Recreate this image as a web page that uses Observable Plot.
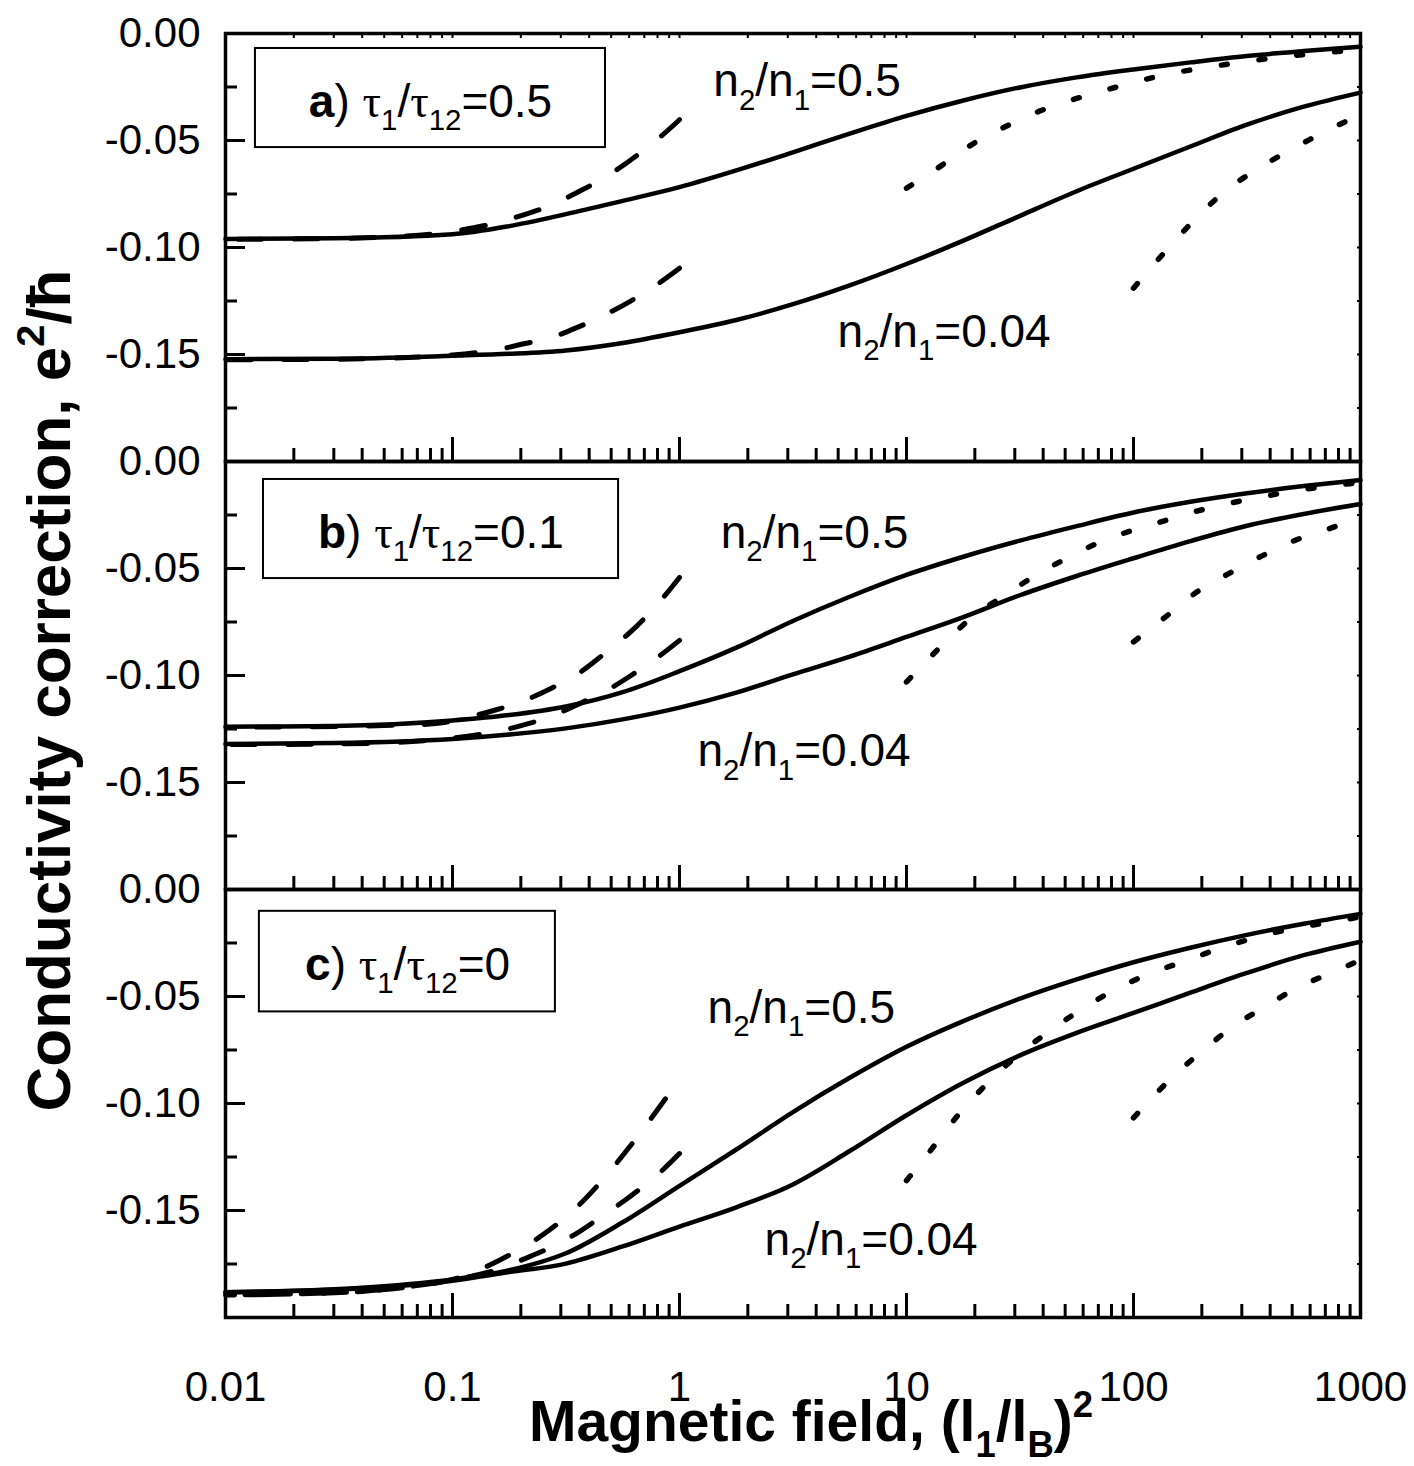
<!DOCTYPE html>
<html><head><meta charset="utf-8">
<script src="https://cdn.jsdelivr.net/npm/d3@7"></script>
<script src="https://cdn.jsdelivr.net/npm/@observablehq/plot@0.6"></script>
<style>body{margin:0;background:#fff;}</style>
</head><body><div id="chart"></div>
<script>
// ---------- axes / ticks ----------
const panels = ["a", "b", "c"];
const xTickValues = [0.01, 0.1, 1, 10, 100, 1000];
const xTickLabels = ["0.01", "0.1", "1", "10", "100", "1000"];
const yTickValues = [0, -0.05, -0.10, -0.15];
const yTickLabels = ["0.00", "-0.05", "-0.10", "-0.15"];
const yMinorTicks = [-0.025, -0.075, -0.125, -0.175];
const xMinorTicks = [];
for (const d of [0.01, 0.1, 1, 10, 100]) for (let k = 2; k <= 9; k++) xMinorTicks.push(+(d * k).toPrecision(3));

// ---------- series (x = (l1/lB)^2, y = conductivity correction) ----------
// panel a) tau1/tau12 = 0.5
const aSolid05 = [[0.01,-0.0960],[0.03,-0.0957],[0.1,-0.0938],[0.178,-0.0900],[0.316,-0.0844],[0.562,-0.0782],[1,-0.0718],[1.78,-0.0640],[3.16,-0.0555],[5.62,-0.0468],[10,-0.0385],[17.8,-0.0313],[31.6,-0.0252],[56.2,-0.0205],[100,-0.0168],[178,-0.0135],[316,-0.0105],[562,-0.0082],[1000,-0.0062]];
const aSolid004 = [[0.01,-0.1522],[0.03,-0.1520],[0.1,-0.1506],[0.178,-0.1497],[0.316,-0.1481],[0.562,-0.1446],[1,-0.1396],[1.78,-0.1339],[3.16,-0.1265],[5.62,-0.1177],[10,-0.1077],[17.8,-0.0968],[31.6,-0.0852],[56.2,-0.0737],[100,-0.0632],[178,-0.0528],[316,-0.0426],[562,-0.0342],[1000,-0.0276]];
const aDash05 = [[0.01,-0.0962],[0.05,-0.0952],[0.0885,-0.0933],[0.12,-0.0910],[0.156,-0.0886],[0.206,-0.0847],[0.27,-0.0804],[0.357,-0.0741],[0.468,-0.0673],[0.612,-0.0590],[0.811,-0.0489],[1.0,-0.0403]];
const aDash004 = [[0.01,-0.1525],[0.05,-0.1518],[0.1,-0.1502],[0.156,-0.1478],[0.206,-0.1450],[0.27,-0.1422],[0.357,-0.1372],[0.468,-0.1315],[0.612,-0.1249],[0.811,-0.1167],[1.0,-0.1097]];
const aDot05 = [[10,-0.0723],[14.4,-0.0614],[19.8,-0.0513],[27.3,-0.0435],[38.3,-0.0364],[52,-0.0315],[71,-0.0272],[100,-0.0229],[138,-0.0192],[200,-0.0162],[270,-0.0141],[370,-0.0121],[510,-0.0103],[710,-0.0089],[1000,-0.0074]];
const aDot004 = [[100,-0.1190],[135,-0.1030],[182,-0.0880],[245,-0.0750],[355,-0.0630],[500,-0.0540],[710,-0.0454],[1000,-0.0380]];
// panel b) tau1/tau12 = 0.1
const bSolid05 = [[0.01,-0.1240],[0.03,-0.1236],[0.1,-0.1210],[0.178,-0.1185],[0.316,-0.1145],[0.562,-0.1078],[1,-0.0980],[1.78,-0.0870],[3.16,-0.0745],[5.62,-0.0632],[10,-0.0530],[17.8,-0.0445],[31.6,-0.0370],[56.2,-0.0302],[100,-0.0238],[178,-0.0188],[316,-0.0148],[562,-0.0115],[1000,-0.0087]];
const bSolid004 = [[0.01,-0.1320],[0.03,-0.1316],[0.1,-0.1297],[0.178,-0.1276],[0.316,-0.1247],[0.562,-0.1205],[1,-0.1150],[1.78,-0.1080],[3.16,-0.0995],[5.62,-0.0912],[10,-0.0820],[17.8,-0.0727],[31.6,-0.0625],[56.2,-0.0535],[100,-0.0452],[178,-0.0372],[316,-0.0300],[562,-0.0245],[1000,-0.0199]];
const bDash05 = [[0.01,-0.1242],[0.05,-0.1234],[0.0885,-0.1222],[0.12,-0.1192],[0.156,-0.1160],[0.206,-0.1118],[0.27,-0.1062],[0.357,-0.0992],[0.468,-0.0897],[0.612,-0.0794],[0.80,-0.0667],[1.0,-0.0542]];
const bDash004 = [[0.01,-0.1323],[0.05,-0.1315],[0.1,-0.1293],[0.156,-0.1262],[0.206,-0.1231],[0.27,-0.1192],[0.357,-0.1135],[0.468,-0.1075],[0.612,-0.1000],[0.811,-0.0911],[1.0,-0.0836]];
const bDot05 = [[10,-0.1030],[14,-0.0870],[19.5,-0.0727],[27,-0.0626],[38,-0.0525],[52,-0.0447],[71,-0.0377],[100,-0.0320],[138,-0.0276],[190,-0.0232],[263,-0.0196],[370,-0.0165],[510,-0.0137],[710,-0.0116],[1000,-0.0098]];
const bDot004 = [[100,-0.0843],[138,-0.0727],[190,-0.0610],[270,-0.0517],[370,-0.0440],[510,-0.0370],[725,-0.0315],[1000,-0.0260]];
// panel c) tau1/tau12 = 0
const cSolid05 = [[0.01,-0.1882],[0.037,-0.1863],[0.1,-0.1822],[0.178,-0.1779],[0.316,-0.1700],[0.562,-0.1555],[1,-0.1385],[1.78,-0.1215],[3.16,-0.1040],[5.62,-0.0880],[10,-0.0735],[17.8,-0.0615],[31.6,-0.0510],[56.2,-0.0420],[100,-0.0340],[178,-0.0272],[316,-0.0212],[562,-0.0160],[1000,-0.0114]];
const cSolid004 = [[0.01,-0.1882],[0.037,-0.1866],[0.1,-0.1828],[0.178,-0.1788],[0.316,-0.1748],[0.562,-0.1668],[1,-0.1575],[1.78,-0.1485],[3.16,-0.1378],[5.62,-0.1222],[10,-0.1055],[17.8,-0.0903],[31.6,-0.0775],[56.2,-0.0670],[100,-0.0577],[178,-0.0482],[316,-0.0390],[562,-0.0307],[1000,-0.0244]];
const cDash05 = [[0.01,-0.1895],[0.04,-0.1878],[0.0885,-0.1835],[0.12,-0.1795],[0.157,-0.1738],[0.206,-0.1671],[0.27,-0.1588],[0.357,-0.1479],[0.464,-0.1350],[0.578,-0.1227],[0.716,-0.1099],[0.867,-0.0978]];
const cDash004 = [[0.01,-0.1895],[0.04,-0.1878],[0.0885,-0.1835],[0.12,-0.1808],[0.157,-0.1777],[0.206,-0.1727],[0.27,-0.1673],[0.357,-0.1603],[0.464,-0.1521],[0.612,-0.1431],[0.811,-0.1327],[1.0,-0.1234]];
const cDot05 = [[10,-0.1360],[13.2,-0.1200],[17,-0.1050],[23,-0.0900],[31.6,-0.0766],[44,-0.0652],[61.7,-0.0547],[85,-0.0462],[117,-0.0394],[166,-0.0337],[229,-0.0283],[316,-0.0236],[436,-0.0197],[617,-0.0166],[871,-0.0140],[1000,-0.0127]];
const cDot004 = [[100,-0.1067],[141,-0.0900],[200,-0.0756],[275,-0.0640],[380,-0.0547],[525,-0.0460],[741,-0.0390],[1000,-0.0330]];

// ---------- annotations ----------
const annoPanel = ["a", "a", "b", "b", "c", "c"];
const annoText = ["n_{2}/n_{1}=0.5", "n_{2}/n_{1}=0.04", "n_{2}/n_{1}=0.5", "n_{2}/n_{1}=0.04", "n_{2}/n_{1}=0.5", "n_{2}/n_{1}=0.04"];
const annoX = [1.41, 4.97, 1.52, 1.2, 1.33, 2.37];
const annoY = [-0.0294, -0.1463, -0.0402, -0.1425, -0.0623, -0.1707];

const boxPanel = ["a", "b", "c"];
const boxText = ["*{a}) ~{τ}_{1}/~{τ}_{12}=0.5", "*{b}) ~{τ}_{1}/~{τ}_{12}=0.1", "*{c}) ~{τ}_{1}/~{τ}_{12}=0"];
const boxX1 = [0.01355, 0.0147, 0.0141];
const boxX2 = [0.472, 0.539, 0.284];
const boxY1 = [-0.0070, -0.0084, -0.0102];
const boxY2 = [-0.0533, -0.0547, -0.0572];
const boxTextX = [0.08, 0.0889, 0.0634];
const boxTextY = [-0.0388, -0.0402, -0.0423];

const yTitle = "Conductivity correction, e^{2}/ħ";
const xTitle = "Magnetic field, (l_{1}/l_{B})^{2}";

// ---------- tables ----------
const curves = [
  ["a", "solid", "0.5", aSolid05], ["a", "solid", "0.04", aSolid004],
  ["a", "dash", "0.5", aDash05], ["a", "dash", "0.04", aDash004],
  ["a", "dot", "0.5", aDot05], ["a", "dot", "0.04", aDot004],
  ["b", "solid", "0.5", bSolid05], ["b", "solid", "0.04", bSolid004],
  ["b", "dash", "0.5", bDash05], ["b", "dash", "0.04", bDash004],
  ["b", "dot", "0.5", bDot05], ["b", "dot", "0.04", bDot004],
  ["c", "solid", "0.5", cSolid05], ["c", "solid", "0.04", cSolid004],
  ["c", "dash", "0.5", cDash05], ["c", "dash", "0.04", cDash004],
  ["c", "dot", "0.5", cDot05], ["c", "dot", "0.04", cDot004]
];
// dashed curves are drawn from their right end so the dash pattern ends cleanly at x = 1
const rows = curves.flatMap(([panel, style, n, pts]) =>
  (style === "dash" ? pts.slice().reverse() : pts).map(([x, y]) => ({panel, style, n, x, y})));
const annos = annoText.map((t, i) => ({panel: annoPanel[i], t, x: annoX[i], y: annoY[i]}));
const boxes = boxPanel.map((p, i) => ({panel: p, t: boxText[i], x1: boxX1[i], x2: boxX2[i], y1: boxY1[i], y2: boxY2[i], tx: boxTextX[i], ty: boxTextY[i]}));

const lineOpts = {x: "x", y: "y", fy: "panel", z: "n", stroke: "black"};

const chart = Plot.plot({
  width: 1414,
  height: 1466,
  marginLeft: 225,
  marginRight: 54,
  marginTop: 32,
  marginBottom: 148,
  style: {fontFamily: "'Liberation Sans', Arial, sans-serif", fontSize: "42px", background: "white", color: "black"},
  x: {type: "log", domain: [0.01, 1000], label: null},
  y: {domain: [-0.2, 0], label: null},
  fy: {domain: panels, padding: 0, axis: null, label: null},
  marks: [
    // curves
    Plot.line(rows.filter(d => d.style === "solid"), {...lineOpts, curve: "monotone-x", strokeWidth: 4.5}),
    Plot.line(rows.filter(d => d.style === "dash"), {...lineOpts, curve: "catmull-rom", strokeWidth: 5, strokeDasharray: "24,32", strokeLinecap: "round"}),
    Plot.line(rows.filter(d => d.style === "dot"), {...lineOpts, curve: "monotone-x", strokeWidth: 5.5, strokeDasharray: "6,32", strokeLinecap: "round"}),
    // boxes & labels
    Plot.rect(boxes, {x1: "x1", x2: "x2", y1: "y1", y2: "y2", fy: "panel", fill: "white", stroke: "black", strokeWidth: 2}),
    Plot.text(boxes, {x: "tx", y: "ty", fy: "panel", text: "t", textAnchor: "middle", lineAnchor: "bottom", fontSize: 46}),
    Plot.text(annos, {x: "x", y: "y", fy: "panel", text: "t", textAnchor: "start", lineAnchor: "bottom", fontSize: 46}),
    // frame and inward ticks
    Plot.frame({strokeWidth: 3.5}),
    Plot.axisY({anchor: "left", ticks: yTickValues.concat([-0.2]), tickSize: -20, strokeWidth: 3, fill: "none", label: null, facetAnchor: null}),
    Plot.axisY({anchor: "left", ticks: yMinorTicks, tickSize: -12, strokeWidth: 3, fill: "none", label: null, facetAnchor: null}),
    Plot.axisY({anchor: "right", ticks: yTickValues.concat(yMinorTicks), tickSize: -4, strokeWidth: 2, fill: "none", label: null, facetAnchor: null}),
    Plot.axisX({anchor: "bottom", ticks: xTickValues, tickSize: -24, strokeWidth: 3, fill: "none", label: null, facetAnchor: null}),
    Plot.axisX({anchor: "bottom", ticks: xMinorTicks, tickSize: -13, strokeWidth: 3, fill: "none", label: null, facetAnchor: null}),
    Plot.axisX({anchor: "top", ticks: xTickValues.concat(xMinorTicks), tickSize: -4, strokeWidth: 2, fill: "none", label: null, facetAnchor: "top"}),
    // tick labels
    Plot.axisY({anchor: "left", ticks: yTickValues, tickSize: 0, tickPadding: 25, fontSize: 42, label: null,
      tickFormat: d => yTickLabels[yTickValues.indexOf(d)]}),
    Plot.axisX({anchor: "bottom", ticks: xTickValues, tickSize: 0, tickPadding: 54, fontSize: 42, label: null, facetAnchor: "bottom",
      tickFormat: d => xTickLabels[xTickValues.indexOf(d)]}),
    // axis titles
    Plot.text([{panel: "b", t: yTitle}], {fy: "panel", text: "t", frameAnchor: "left", rotate: -90, dx: -175, dy: 15,
      fontSize: 62, fontWeight: "bold", textAnchor: "middle", lineAnchor: "middle"}),
    Plot.text([{panel: "c", t: xTitle}], {fy: "panel", text: "t", frameAnchor: "bottom", dx: 18, dy: 123,
      fontSize: 57, fontWeight: "bold", textAnchor: "middle", lineAnchor: "bottom"})
  ]
});

document.getElementById("chart").appendChild(chart);

// rich text: _{sub}, ^{sup}, *{bold}, ~{serif}
function richify(svg) {
  const NS = "http://www.w3.org/2000/svg";
  svg.querySelectorAll("text").forEach(t => {
    const s = t.textContent;
    if (!/[_^*~]\{/.test(s)) return;
    const F = parseFloat(getComputedStyle(t).fontSize);
    while (t.firstChild) t.removeChild(t.firstChild);
    const re = /([_^*~])\{([^}]*)\}/g;
    let last = 0, cur = 0, m;
    const add = (str, kind) => {
      if (!str) return;
      const ts = document.createElementNS(NS, "tspan");
      let off = 0;
      if (kind === "_") { off = 0.29 * F; ts.setAttribute("font-size", 0.64 * F); }
      else if (kind === "^") { off = -0.42 * F; ts.setAttribute("font-size", 0.64 * F); }
      else if (kind === "*") ts.setAttribute("font-weight", "bold");
      else if (kind === "~") ts.setAttribute("font-family", "'Liberation Serif', 'DejaVu Serif', serif");
      if (off !== cur) { ts.setAttribute("dy", off - cur); cur = off; }
      ts.textContent = str;
      t.appendChild(ts);
    };
    while ((m = re.exec(s))) { add(s.slice(last, m.index), ""); add(m[2], m[1]); last = re.lastIndex; }
    add(s.slice(last), "");
  });
}
richify(chart);
</script>
</body></html>
